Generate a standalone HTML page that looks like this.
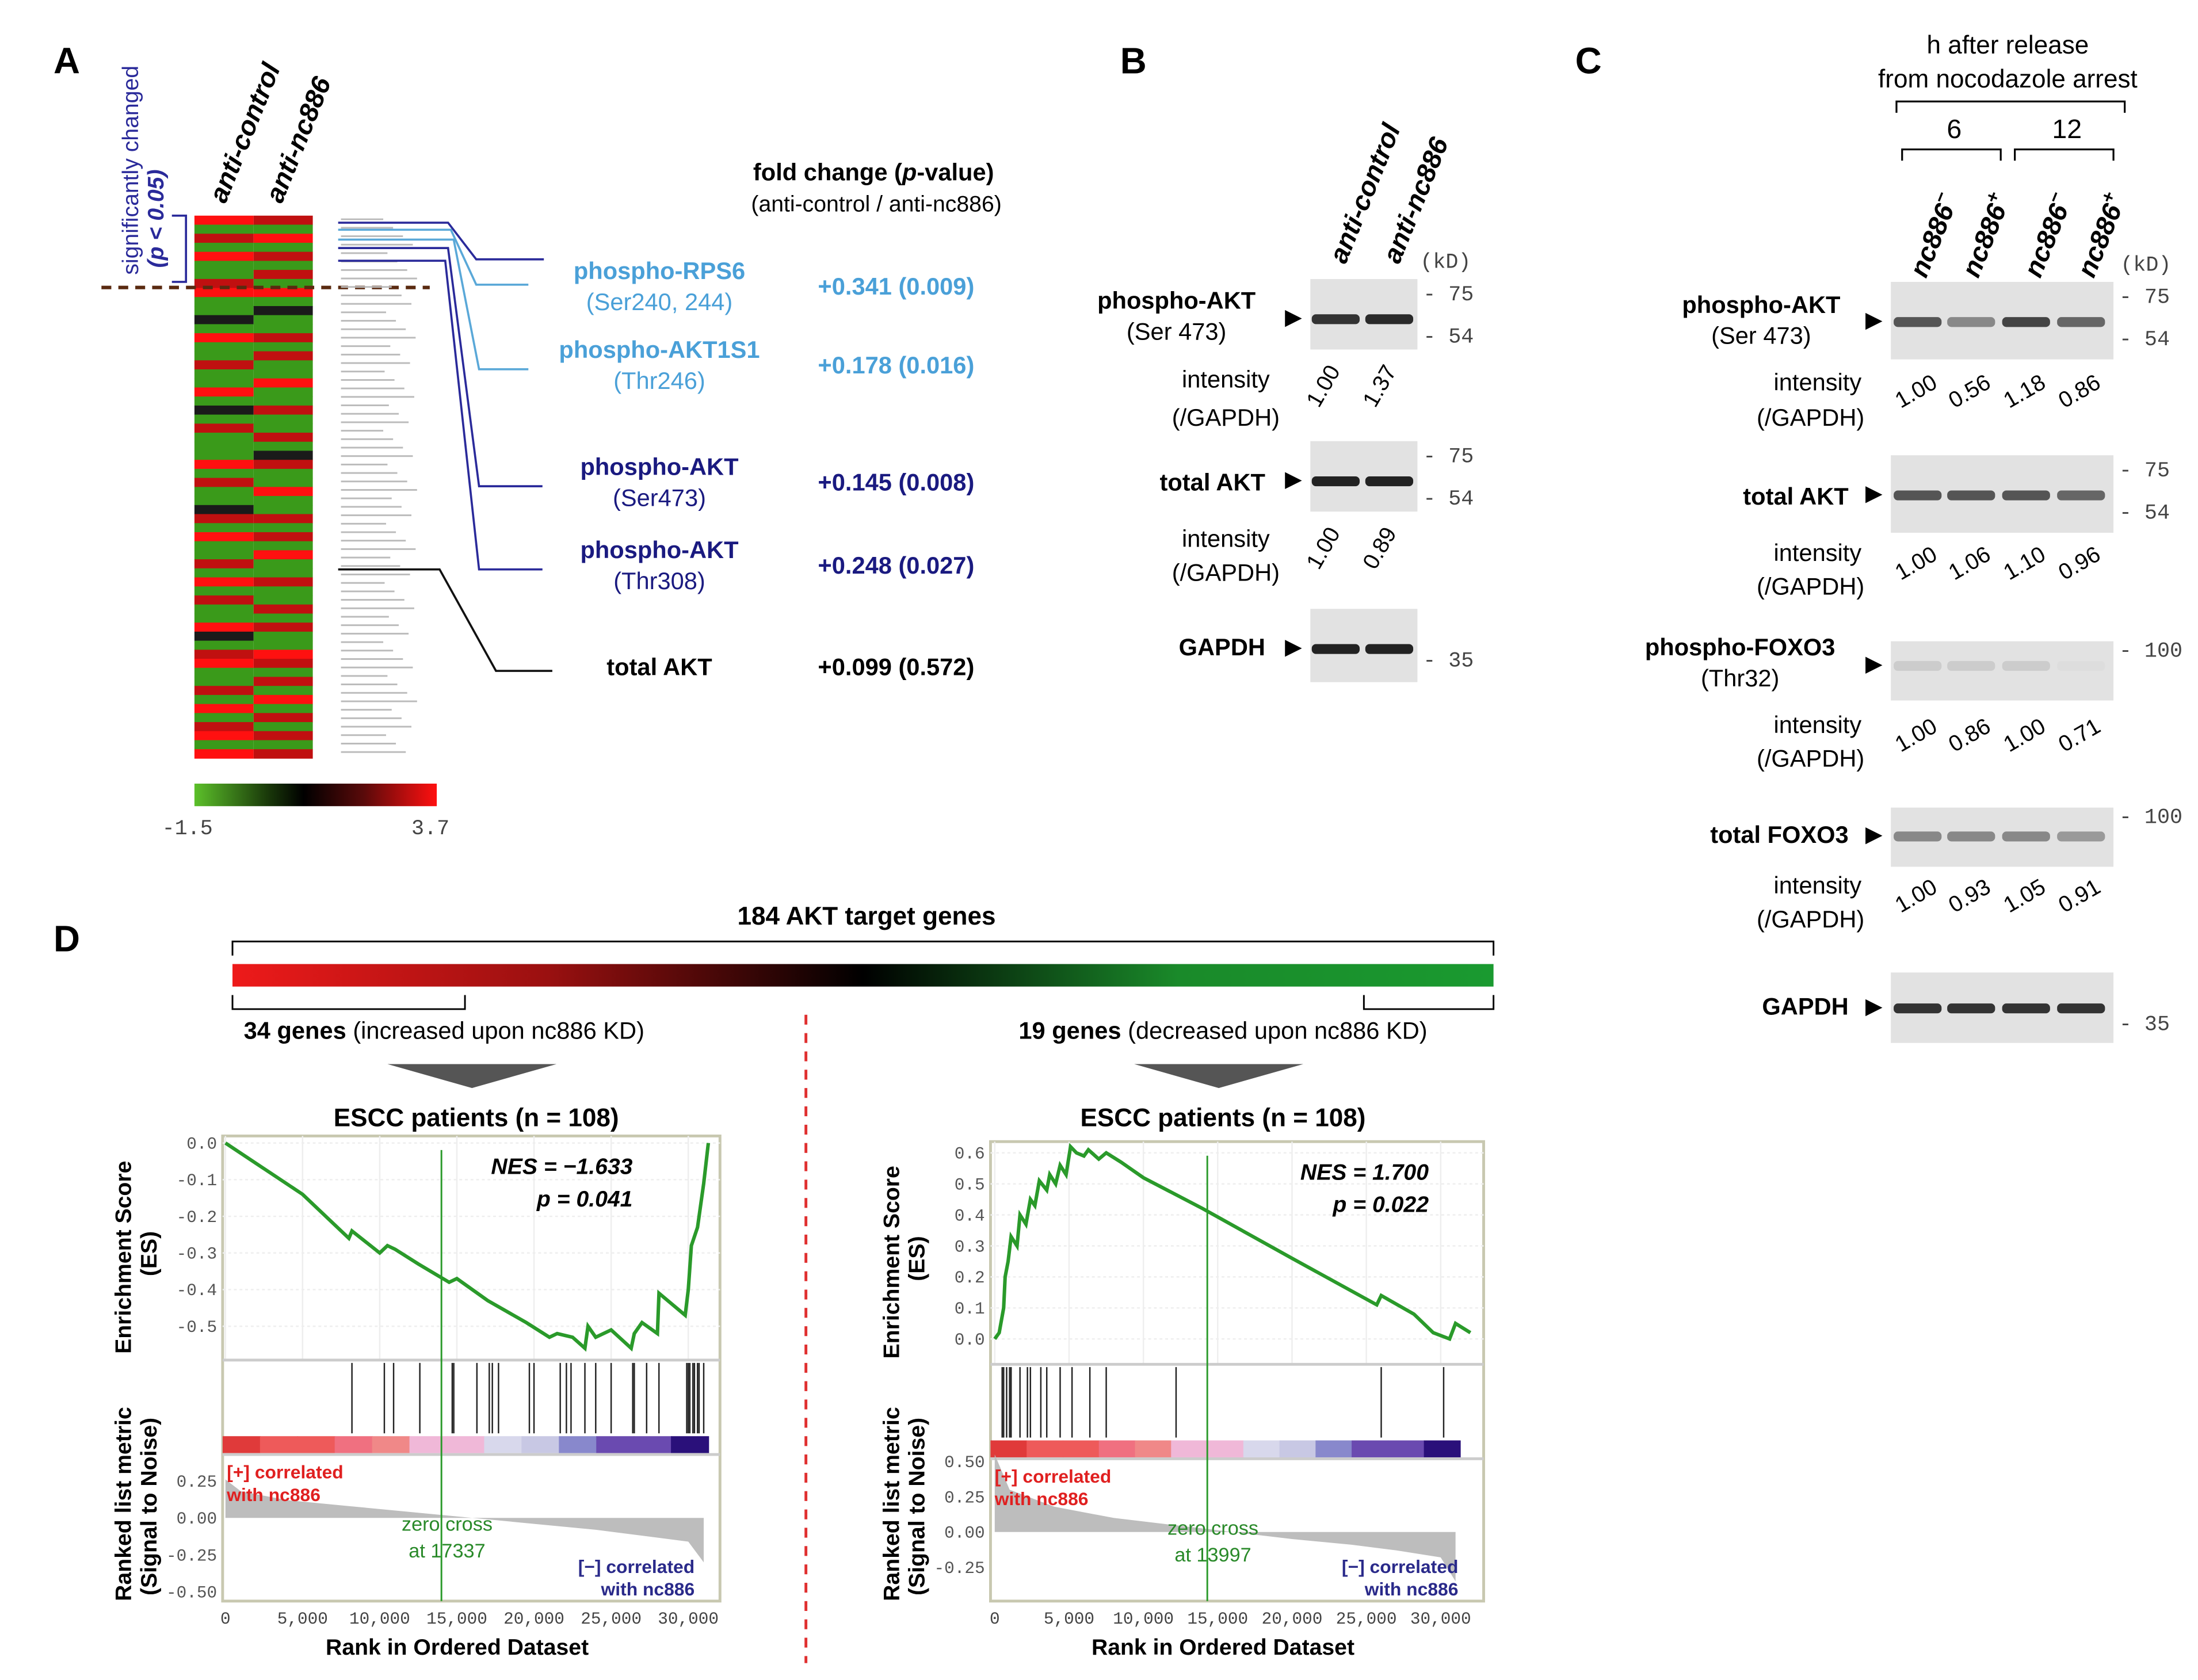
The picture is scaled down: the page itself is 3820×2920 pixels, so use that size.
<!DOCTYPE html>
<html><head><meta charset="utf-8"><style>
html,body{margin:0;padding:0;background:#fff}
svg{display:block}
text{font-family:"Liberation Sans",sans-serif}
.mono{font-family:"Liberation Mono",monospace}
</style></head><body>
<svg id="fig" width="3820" height="2920" viewBox="0 0 1560 1192" preserveAspectRatio="none" xmlns="http://www.w3.org/2000/svg">
<rect width="1560" height="1192" fill="#fff"/>
<text x="38" y="52" font-size="26" font-weight="bold">A</text>
<text x="795" y="52" font-size="26" font-weight="bold">B</text>
<text x="1118" y="52" font-size="26" font-weight="bold">C</text>
<text x="38" y="675" font-size="26" font-weight="bold">D</text>

<g>
<text transform="translate(98,195) rotate(-90)" font-size="16" fill="#2a2a9a">significantly changed</text>
<text transform="translate(116,190) rotate(-90)" font-size="16" font-weight="bold" font-style="italic" fill="#2a2a9a">(p &lt; 0.05)</text>
<path d="M122,153 H132 V200 H122" fill="none" stroke="#2a2a9a" stroke-width="1.5"/>
<text transform="translate(160,145) rotate(-68)" font-size="19" font-weight="bold" font-style="italic">anti-control</text>
<text transform="translate(200,145) rotate(-68)" font-size="19" font-weight="bold" font-style="italic">anti-nc886</text>
<g id="heatmap"></g>
<line x1="72" y1="204" x2="305" y2="204" stroke="#5a2a10" stroke-width="2.5" stroke-dasharray="7,5"/>
<g id="labelsTiny"></g>
<defs><linearGradient id="rg" x1="0" x2="1"><stop offset="0" stop-color="#5cc02a"/><stop offset="0.3" stop-color="#1a3a0a"/><stop offset="0.45" stop-color="#000"/><stop offset="0.7" stop-color="#5a0a0a"/><stop offset="1" stop-color="#ff1010"/></linearGradient>
<linearGradient id="bigbar" x1="0" x2="1"><stop offset="0" stop-color="#ee1a1a"/><stop offset="0.25" stop-color="#9a1010"/><stop offset="0.5" stop-color="#000"/><stop offset="0.75" stop-color="#1a8a2a"/><stop offset="1" stop-color="#1a9a30"/></linearGradient></defs>
<rect x="138" y="556" width="172" height="16" fill="url(#rg)"/>
<text x="115" y="592" font-size="15" class="mono" fill="#444">-1.5</text>
<text x="292" y="592" font-size="15" class="mono" fill="#444">3.7</text>
<polyline points="240,158 318,158 338,184 386,184" fill="none" stroke="#2a2a9a" stroke-width="1.5"/>
<polyline points="240,163 320,163 338,202 375,202" fill="none" stroke="#5aa8d8" stroke-width="1.5"/>
<polyline points="240,170 322,170 340,262 375,262" fill="none" stroke="#5aa8d8" stroke-width="1.5"/>
<polyline points="240,176 318,176 340,345 385,345" fill="none" stroke="#2a2a9a" stroke-width="1.5"/>
<polyline points="240,185 316,185 340,404 385,404" fill="none" stroke="#2a2a9a" stroke-width="1.5"/>
<polyline points="240,404 312,404 352,476 392,476" fill="none" stroke="#111" stroke-width="1.5"/>
<text x="620" y="128" font-size="17" font-weight="bold" text-anchor="middle">fold change (<tspan font-style="italic">p</tspan>-value)</text>
<text x="622" y="150" font-size="16" text-anchor="middle">(anti-control / anti-nc886)</text>
<g font-size="17" text-anchor="middle">
<text x="468" y="198" font-weight="bold" fill="#4aa0d8">phospho-RPS6</text><text x="468" y="220" fill="#4aa0d8">(Ser240, 244)</text>
<text x="468" y="254" font-weight="bold" fill="#4aa0d8">phospho-AKT1S1</text><text x="468" y="276" fill="#4aa0d8">(Thr246)</text>
<text x="468" y="337" font-weight="bold" fill="#1a1a80">phospho-AKT</text><text x="468" y="359" fill="#1a1a80">(Ser473)</text>
<text x="468" y="396" font-weight="bold" fill="#1a1a80">phospho-AKT</text><text x="468" y="418" fill="#1a1a80">(Thr308)</text>
<text x="468" y="479" font-weight="bold" fill="#000">total AKT</text>
<text x="636" y="209" font-weight="bold" fill="#4aa0d8">+0.341 (0.009)</text>
<text x="636" y="265" font-weight="bold" fill="#4aa0d8">+0.178 (0.016)</text>
<text x="636" y="348" font-weight="bold" fill="#1a1a80">+0.145 (0.008)</text>
<text x="636" y="407" font-weight="bold" fill="#1a1a80">+0.248 (0.027)</text>
<text x="636" y="479" font-weight="bold" fill="#000">+0.099 (0.572)</text>
</g>
</g>

<g font-size="17">
<text transform="translate(955,188) rotate(-68)" font-size="19" font-weight="bold" font-style="italic">anti-control</text>
<text transform="translate(993,188) rotate(-68)" font-size="19" font-weight="bold" font-style="italic">anti-nc886</text>
<text x="1008" y="190" font-size="15" class="mono" fill="#444">(kD)</text>
<g id="blotB"></g>
<text x="835" y="219" font-weight="bold" text-anchor="middle">phospho-AKT</text><text x="835" y="241" text-anchor="middle">(Ser 473)</text>
<text x="870" y="275" text-anchor="middle">intensity</text><text x="870" y="412" text-anchor="middle">(/GAPDH)</text>
<text x="870" y="302" text-anchor="middle">(/GAPDH)</text><text x="870" y="388" text-anchor="middle">intensity</text>
<text x="898" y="348" font-weight="bold" text-anchor="end">total AKT</text>
<text x="898" y="465" font-weight="bold" text-anchor="end">GAPDH</text>
<g font-size="16"><text transform="translate(936,290) rotate(-60)">1.00</text><text transform="translate(976,290) rotate(-60)">1.37</text>
<text transform="translate(936,405) rotate(-60)">1.00</text><text transform="translate(976,405) rotate(-60)">0.89</text></g>
</g>

<g font-size="17">
<text x="1425" y="38" text-anchor="middle" font-size="18">h after release</text>
<text x="1425" y="62" text-anchor="middle" font-size="18">from nocodazole arrest</text>
<path d="M1346,80 V72 H1508 V80" fill="none" stroke="#000" stroke-width="1.3"/>
<text x="1387" y="98" text-anchor="middle" font-size="19">6</text><text x="1467" y="98" text-anchor="middle" font-size="19">12</text>
<path d="M1350,114 V106 H1420 V114 M1430,114 V106 H1500 V114" fill="none" stroke="#000" stroke-width="1.3"/>
<g font-size="19" font-weight="bold" font-style="italic">
<text transform="translate(1367,198) rotate(-68)">nc886<tspan font-size="13" dy="-8">−</tspan></text>
<text transform="translate(1404,198) rotate(-68)">nc886<tspan font-size="13" dy="-8">+</tspan></text>
<text transform="translate(1448,198) rotate(-68)">nc886<tspan font-size="13" dy="-8">−</tspan></text>
<text transform="translate(1486,198) rotate(-68)">nc886<tspan font-size="13" dy="-8">+</tspan></text></g>
<text x="1505" y="192" font-size="15" class="mono" fill="#444">(kD)</text>
<g id="blotC"></g>
<text x="1250" y="222" font-weight="bold" text-anchor="middle">phospho-AKT</text><text x="1250" y="244" text-anchor="middle">(Ser 473)</text>
<text x="1312" y="358" font-weight="bold" text-anchor="end">total AKT</text>
<text x="1235" y="465" font-weight="bold" text-anchor="middle">phospho-FOXO3</text><text x="1235" y="487" text-anchor="middle">(Thr32)</text>
<text x="1312" y="598" font-weight="bold" text-anchor="end">total FOXO3</text>
<text x="1312" y="720" font-weight="bold" text-anchor="end">GAPDH</text>
<g text-anchor="middle"><text x="1290" y="277">intensity</text><text x="1285" y="302">(/GAPDH)</text>
<text x="1290" y="398">intensity</text><text x="1285" y="422">(/GAPDH)</text>
<text x="1290" y="520">intensity</text><text x="1285" y="544">(/GAPDH)</text>
<text x="1290" y="634">intensity</text><text x="1285" y="658">(/GAPDH)</text></g>
<g id="intC" font-size="16"></g>
</g>

<g>
<text x="615" y="656" font-size="18" font-weight="bold" text-anchor="middle">184 AKT target genes</text>
<path d="M165,678 V668 H1060 V678" fill="none" stroke="#000" stroke-width="1.2"/>
<rect x="165" y="684" width="895" height="16" fill="url(#bigbar)"/>
<path d="M165,706 V716 H330 V706 M968,706 V716 H1060 V706" fill="none" stroke="#000" stroke-width="1.2"/>
<text x="173" y="737" font-size="17"><tspan font-weight="bold">34 genes</tspan> (increased upon nc886 KD)</text>
<text x="723" y="737" font-size="17"><tspan font-weight="bold">19 genes</tspan> (decreased upon nc886 KD)</text>
<polygon points="275,755 395,755 335,772" fill="#555"/>
<polygon points="805,755 925,755 865,772" fill="#555"/>
<text x="338" y="799" font-size="18" font-weight="bold" text-anchor="middle">ESCC patients (n = 108)</text>
<text x="868" y="799" font-size="18" font-weight="bold" text-anchor="middle">ESCC patients (n = 108)</text>
<line x1="572" y1="720" x2="572" y2="1180" stroke="#e03030" stroke-width="2" stroke-dasharray="7,6"/>
</g>
<g id="gseaL"></g>
<g id="gseaR"></g>
</svg>
<script>
const heatCol1=[2,-1,1,-1,2,-1,-1,1,2,-1,-1,0,-1,2,-1,-1,1,-1,-1,2,-1,0,-1,1,-1,-1,-1,2,-1,1,-1,-1,0,1,-1,2,-1,-1,1,-1,2,-1,1,-1,-1,2,0,-1,1,2,-1,-1,1,-1,2,-1,1,2,-1,2];
const heatCol2=[1,-1,2,-1,1,-1,1,-1,2,-1,0,-1,-1,1,-1,1,-1,-1,2,-1,-1,1,-1,-1,1,-1,0,1,-1,-1,2,-1,-1,1,-1,1,-1,2,-1,-1,1,-1,-1,1,-1,1,-1,-1,2,1,-1,1,-1,2,-1,1,-1,1,-1,1];
const ranksAxis=[0,5000,10000,15000,20000,25000,30000];
const tickLabels=["0","5,000","10,000","15,000","20,000","25,000","30,000"];
const esRankL=[0,2500,5000,8000,8200,10000,10500,11000,12500,14500,15000,17000,19500,21000,21500,22500,23300,23500,24000,25000,26300,26500,27000,28000,28100,29800,30000,30200,30600,30800,31000,31300];
const esValL=[0,-0.07,-0.14,-0.26,-0.24,-0.30,-0.28,-0.29,-0.33,-0.38,-0.37,-0.43,-0.49,-0.53,-0.52,-0.53,-0.56,-0.50,-0.53,-0.51,-0.56,-0.52,-0.49,-0.52,-0.41,-0.47,-0.40,-0.28,-0.23,-0.17,-0.11,0.0];
const hitsL=[8200,10300,10900,12600,14700,14800,16300,17100,17300,17700,19700,20000,21700,22100,22400,23300,24000,25000,26400,26500,27300,28100,29900,30000,30100,30300,30400,30600,30700,31000];
const esTicksL=[0,-0.1,-0.2,-0.3,-0.4,-0.5];
const esRankR=[0,300,600,700,900,1100,1500,1700,2100,2400,2700,3000,3500,3700,4100,4400,4800,5100,5500,6000,6300,7000,7500,8500,10000,14000,20000,25700,26000,28200,29500,30600,31000,32000];
const esValR=[0,0.02,0.1,0.2,0.25,0.33,0.30,0.40,0.37,0.45,0.43,0.51,0.48,0.53,0.50,0.56,0.53,0.62,0.60,0.59,0.61,0.58,0.60,0.57,0.52,0.42,0.26,0.11,0.14,0.08,0.02,0.0,0.05,0.02];
const hitsR=[500,600,800,1000,1100,1700,2200,2400,3100,3500,4400,5200,6400,7500,12200,14300,26000,30200];
const esTicksR=[0,0.1,0.2,0.3,0.4,0.5,0.6];
const metricL=[0.26,0.18,0.12,0.08,0.04,0.0,-0.04,-0.08,-0.12,-0.16,-0.3];
const metricR=[0.55,0.30,0.18,0.10,0.05,0.0,-0.05,-0.09,-0.13,-0.18,-0.35];
const metricRanks=[0,1000,4000,8000,12000,16000,20000,24000,27000,30000,31000];
const intensC=[["1.00","0.56","1.18","0.86"],["1.00","1.06","1.10","0.96"],["1.00","0.86","1.00","0.71"],["1.00","0.93","1.05","0.91"]];

const NS="http://www.w3.org/2000/svg";
function mk(p,tag,a,txt){const e=document.createElementNS(NS,tag);for(const k in a)e.setAttribute(k,a[k]);if(txt!==undefined)e.textContent=txt;p.appendChild(e);return e;}

const hm=document.getElementById('heatmap');
const rh=(538-153)/heatCol1.length;
function hc(v){return v>=2?'#ff1010':v==1?'#c01010':v==0?'#1a1a1a':'#3a9a1a';}
heatCol1.forEach((v,i)=>{const r=mk(hm,'rect',{x:138,y:153+i*rh,width:42,height:rh+0.3,fill:hc(v)});

});
heatCol2.forEach((v,i)=>{const r=mk(hm,'rect',{x:180,y:153+i*rh,width:42,height:rh+0.3,fill:hc(v)});

});
const lt=document.getElementById('labelsTiny');
for(let i=0;i<64;i++){mk(lt,'rect',{x:242,y:155+i*6,width:30+(i*7%25),height:1.2,fill:'#bbb'});}

function blot(g,x,y,w,h,lanes,bandY,dark,labelsR){
 mk(g,'rect',{x:x,y:y,width:w,height:h,fill:'#e2e2e2'});
 lanes.forEach((lx,i)=>{mk(g,'rect',{x:lx-17,y:y+bandY-3,width:34,height:7,rx:3,fill:dark[i]});});
 mk(g,'polygon',{points:`${x-18},${y+bandY-6} ${x-6},${y+bandY} ${x-18},${y+bandY+6}`,fill:'#000'});
 labelsR.forEach(l=>{mk(g,'text',{x:x+w+4,y:y+l[0]+5,'font-size':15,'class':'mono',fill:'#444'},'- '+l[1]);});
}
const bB=document.getElementById('blotB');
blot(bB,930,198,76,50,[948,986],28,['#333','#2a2a2a'],[[10,'75'],[40,'54']]);
blot(bB,930,313,76,50,[948,986],28,['#222','#222'],[[10,'75'],[40,'54']]);
blot(bB,930,432,76,52,[948,986],28,['#222','#222'],[[36,'35']]);
const bC=document.getElementById('blotC');
const lc=[1361,1399,1438,1477];
blot(bC,1342,200,158,55,lc,28,['#555','#888','#444','#666'],[[10,'75'],[40,'54']]);
blot(bC,1342,323,158,55,lc,28,['#555','#555','#555','#666'],[[10,'75'],[40,'54']]);
blot(bC,1342,455,158,42,lc,17,['#ccc','#ccc','#ccc','#ddd'],[[6,'100']]);
blot(bC,1342,573,158,42,lc,20,['#888','#888','#888','#999'],[[6,'100']]);
blot(bC,1342,690,158,50,lc,25,['#333','#333','#333','#333'],[[36,'35']]);
const ic=document.getElementById('intC');
[290,412,534,648].forEach((y,j)=>{intensC[j].forEach((t,i)=>{mk(ic,'text',{transform:`translate(${lc[i]-12},${y}) rotate(-30)`},t);});});

function gsea(g,o){
 const X=r=>o.x0+r/1000*o.pxk;
 const Y=v=>o.y0-(v)*o.pyu;
 mk(g,'rect',{x:o.fx,y:o.ft,width:o.fw,height:o.fb-o.ft,fill:'none',stroke:'#c8c8b0','stroke-width':2});
 ranksAxis.forEach(r=>{mk(g,'line',{x1:X(r),y1:o.ft,x2:X(r),y2:o.esb,stroke:'#eee'});});
 o.ticks.forEach(t=>{mk(g,'line',{x1:o.fx,y1:Y(t),x2:o.fx+o.fw,y2:Y(t),stroke:'#eee','stroke-dasharray':'2,2'});
  mk(g,'text',{x:o.fx-4,y:Y(t)+4,'font-size':12,'class':'mono',fill:'#555','text-anchor':'end'},t.toFixed(1));});
 mk(g,'line',{x1:o.fx,y1:o.esb,x2:o.fx+o.fw,y2:o.esb,stroke:'#ccc','stroke-width':2});
 const pts=o.er.map((r,i)=>X(r)+','+Y(o.ev[i])).join(' ');
 const pl=mk(g,'polyline',{points:pts,fill:'none',stroke:'#2a9a2a','stroke-width':2.5});
 
 
 o.hits.forEach(h=>{const l=mk(g,'line',{x1:X(h),y1:o.esb+2,x2:X(h),y2:o.cb-2,stroke:'#222','stroke-width':1});
  
  });
 const cols=['#e03a3a','#ee5a5a','#ee5a5a','#f07080','#f08888','#f0b8d8','#f0b8d8','#d8d8ec','#c8c8e4','#8888cc','#6a4ab0','#6a4ab0','#2a107a'];
 const cw=(X(31300)-o.fx)/cols.length;
 cols.forEach((c,i)=>mk(g,'rect',{x:o.fx+i*cw,y:o.cb,width:cw+0.5,height:12,fill:c}));
 mk(g,'line',{x1:o.fx,y1:o.cb+13,x2:o.fx+o.fw,y2:o.cb+13,stroke:'#ccc','stroke-width':2});
 const MY=v=>o.m0-v*o.mpu;
 o.mt.forEach(t=>mk(g,'text',{x:o.fx-4,y:MY(t)+4,'font-size':12,'class':'mono',fill:'#555','text-anchor':'end'},t.toFixed(2)));
 let d='M'+X(0)+','+MY(0);
 o.mr.forEach((r,i)=>{d+=' L'+X(r)+','+MY(o.mv[i]);});
 d+=' L'+X(31000)+','+MY(0)+' Z';
 const a=mk(g,'path',{d:d,fill:'#bdbdbd'});
 
 
 mk(g,'line',{x1:X(o.zc),y1:o.ft+10,x2:X(o.zc),y2:o.fb,stroke:'#2a9a2a','stroke-width':1.2});
 ranksAxis.forEach((r,i)=>mk(g,'text',{x:X(r),y:o.fb+16,'font-size':12,'class':'mono',fill:'#444','text-anchor':'middle'},tickLabels[i]));
 mk(g,'text',{x:o.fx+o.fw/2-10,y:o.fb+38,'font-size':16,'font-weight':'bold','text-anchor':'middle'},'Rank in Ordered Dataset');
 mk(g,'text',{transform:`translate(${o.fx-65},${(o.ft+o.esb)/2+75}) rotate(-90)`,'font-size':16,'font-weight':'bold'},'Enrichment Score');
 mk(g,'text',{transform:`translate(${o.fx-47},${(o.ft+o.esb)/2+20}) rotate(-90)`,'font-size':16,'font-weight':'bold'},'(ES)');
 mk(g,'text',{transform:`translate(${o.fx-65},${o.fb}) rotate(-90)`,'font-size':16,'font-weight':'bold'},'Ranked list metric');
 mk(g,'text',{transform:`translate(${o.fx-47},${o.fb-4}) rotate(-90)`,'font-size':16,'font-weight':'bold'},'(Signal to Noise)');
 mk(g,'text',{x:o.fx+3,y:o.cb+30,'font-size':13,'font-weight':'bold',fill:'#e02020'},'[+] correlated');
 mk(g,'text',{x:o.fx+3,y:o.cb+46,'font-size':13,'font-weight':'bold',fill:'#e02020'},'with nc886');
 mk(g,'text',{x:X(o.zc)+4,y:o.cb+67,'font-size':14,fill:'#2a8a2a','text-anchor':'middle'},'zero cross');
 mk(g,'text',{x:X(o.zc)+4,y:o.cb+86,'font-size':14,fill:'#2a8a2a','text-anchor':'middle'},'at '+o.zcl);
 mk(g,'text',{x:o.fx+o.fw-18,y:o.fb-20,'font-size':13,'font-weight':'bold',fill:'#2a2a8a','text-anchor':'end'},'[−] correlated');
 mk(g,'text',{x:o.fx+o.fw-18,y:o.fb-4,'font-size':13,'font-weight':'bold',fill:'#2a2a8a','text-anchor':'end'},'with nc886');
 mk(g,'text',{x:o.nx,y:o.ft+27,'font-size':16,'font-weight':'bold','font-style':'italic','text-anchor':'end'},o.nes);
 mk(g,'text',{x:o.nx,y:o.ft+50,'font-size':16,'font-weight':'bold','font-style':'italic','text-anchor':'end'},o.p);
}
gsea(document.getElementById('gseaL'),{x0:160,pxk:10.95,y0:811,pyu:260,fx:158,fw:353,ft:806,fb:1136,esb:965,cb:1019,
 ticks:esTicksL,er:esRankL,ev:esValL,hits:hitsL,mt:[0.25,0,-0.25,-0.5],m0:1077,mpu:105,mr:metricRanks,mv:metricL,zc:14000,zcl:'17337',
 nes:'NES = −1.633',p:'p = 0.041',nx:449});
gsea(document.getElementById('gseaR'),{x0:706,pxk:10.55,y0:950,pyu:220,fx:703,fw:350,ft:810,fb:1136,esb:968,cb:1022,
 ticks:esTicksR,er:esRankR,ev:esValR,hits:hitsR,mt:[0.5,0.25,0,-0.25],m0:1087,mpu:100,mr:metricRanks,mv:metricR,zc:14300,zcl:'13997',
 nes:'NES = 1.700',p:'p = 0.022',nx:1014});
</script>
</body></html>
